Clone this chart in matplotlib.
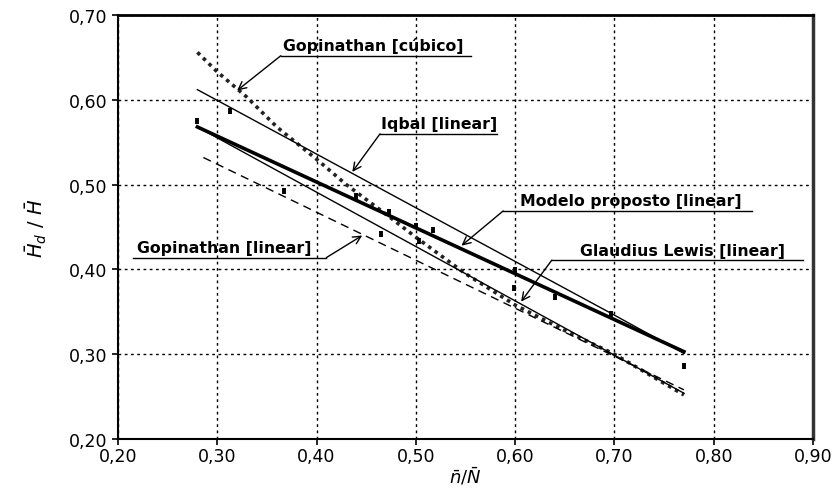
import numpy as np
import matplotlib
matplotlib.use("Agg")
from matplotlib import pyplot as plt

# --- dados ---
obs_x = [0.28, 0.313, 0.367, 0.44, 0.465, 0.473, 0.50, 0.503, 0.517, 0.599, 0.60, 0.64, 0.697, 0.77]
obs_y = [0.575, 0.587, 0.493, 0.486, 0.442, 0.468, 0.451, 0.433, 0.446, 0.378, 0.399, 0.368, 0.348, 0.286]

modelo_x = [0.28, 0.77]
modelo_y = [0.568, 0.303]

iqbal_x = [0.28, 0.697, 0.77]
iqbal_y = [0.612, 0.348, 0.301]

lewis_x = [0.28, 0.77]
lewis_y = [0.568, 0.254]

gop_lin_x = [0.286, 0.77]
gop_lin_y = [0.532, 0.258]

gop_cub_x = [0.28, 0.30, 0.33, 0.36, 0.40, 0.43, 0.47, 0.50, 0.55, 0.60, 0.65, 0.70, 0.77]
gop_cub_y = [0.656, 0.633, 0.603, 0.568, 0.530, 0.500, 0.465, 0.438, 0.395, 0.358, 0.328, 0.300, 0.252]

ticks = [0.20, 0.30, 0.40, 0.50, 0.60, 0.70, 0.80, 0.90]
yticks = [0.20, 0.30, 0.40, 0.50, 0.60, 0.70]

# rótulos: texto, início do texto (x, y), sublinhado (x0, x1, y), ponta da seta, lado da seta
labels = [
    ("Gopinathan [cúbico]", 0.366, 0.655, 0.364, 0.556, 0.652, 0.320, 0.611, "left"),
    ("Iqbal [linear]", 0.465, 0.563, 0.464, 0.582, 0.560, 0.436, 0.515, "left"),
    ("Modelo proposto [linear]", 0.605, 0.472, 0.588, 0.839, 0.469, 0.546, 0.428, "left"),
    ("Glaudius Lewis [linear]", 0.665, 0.414, 0.637, 0.890, 0.411, 0.606, 0.362, "left"),
    ("Gopinathan [linear]", 0.219, 0.417, 0.215, 0.410, 0.414, 0.446, 0.440, "right"),
]

fig = plt.figure(figsize=(8.39, 4.89), dpi=100)
ax = fig.add_axes([0.1406, 0.1002, 0.8284, 0.8670])

ax.plot(gop_cub_x, gop_cub_y, color="#222222", lw=2.6, ls=(0, (1, 1.2)), zorder=3)
ax.plot(gop_lin_x, gop_lin_y, color="black", lw=1.0, ls=(0, (6, 4)), zorder=3)
ax.plot(lewis_x, lewis_y, color="black", lw=1.0, zorder=3)
ax.plot(iqbal_x, iqbal_y, color="black", lw=1.0, zorder=3)
ax.plot(modelo_x, modelo_y, color="black", lw=2.6, zorder=4)
ax.plot(obs_x, obs_y, ls="none", marker="|", ms=5, mew=2.8, color="black", zorder=5)

for txt, tx, ty, ux0, ux1, uy, px, py, side in labels:
    ax.text(tx, ty, txt, fontsize=11.3, fontweight="bold", ha="left", va="bottom", zorder=6)
    ax.plot([ux0, ux1], [uy, uy], color="black", lw=1.0, zorder=6)
    start = ux0 if side == "left" else ux1
    ax.annotate("", xy=(px, py), xytext=(start, uy),
                arrowprops=dict(arrowstyle="->", color="black", lw=1.0,
                                shrinkA=0, shrinkB=0, mutation_scale=14),
                zorder=6)

ax.set_xlim(0.20, 0.90)
ax.set_ylim(0.20, 0.70)
ax.set_xticks(ticks)
ax.set_yticks(yticks)
ax.set_xticklabels([f"{t:.2f}".replace(".", ",") for t in ticks])
ax.set_yticklabels([f"{t:.2f}".replace(".", ",") for t in yticks])
ax.tick_params(direction="out", length=4, width=1.2, labelsize=12.5, color="black")
ax.tick_params(axis="x", pad=2)
ax.grid(True, color="black", lw=1.0, ls=(0, (2, 2.5)))

for side in ["left", "bottom"]:
    ax.spines[side].set_linewidth(1.5)
ax.spines["top"].set_linewidth(2.0)
ax.spines["right"].set_linewidth(2.5)
ax.spines["right"].set_color("#333333")

ax.set_xlabel(r"$\bar{n}/\bar{N}$", fontsize=13, labelpad=0)
ax.set_ylabel(r"$\bar{H}_d\ /\ \bar{H}$", fontsize=14, labelpad=14)

plt.savefig("out.png", dpi=100)
